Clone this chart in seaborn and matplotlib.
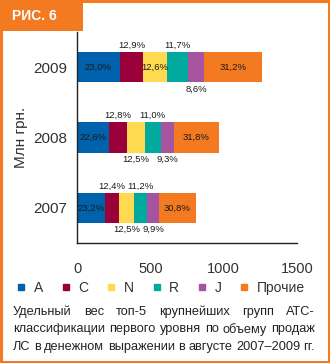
import matplotlib
matplotlib.use("Agg")
import matplotlib.pyplot as plt
from matplotlib.patches import Rectangle
from matplotlib.lines import Line2D
import seaborn as sns
import numpy as np
import pandas as pd

# ---- data ----
years = ["2009", "2008", "2007"]
totals = [1262, 968, 810]          # млн грн.
groups = ["A", "C", "N", "R", "J", "Прочие"]
share_2009 = [23.0, 12.9, 12.6, 11.7, 8.6, 31.2]
share_2008 = [22.6, 12.8, 12.5, 11.0, 9.3, 31.8]
share_2007 = [23.2, 12.4, 12.5, 11.2, 9.9, 30.8]
# label placement per segment: 'in', 'up', 'down'
place_2009 = ["in", "up", "in", "up", "down", "in"]
place_2008 = ["in", "up", "down", "up", "down", "in"]
place_2007 = ["in", "up", "down", "up", "down", "in"]
colors = ["#0061AC", "#9A0039", "#FFD94F", "#00A99D", "#A754A0", "#F47A21"]
xticks = [0, 500, 1000, 1500]
caption = ["Удельный вес топ-5 крупнейших групп АТС-",
           "классификации первого уровня по объему продаж",
           "ЛС в денежном выражении в августе 2007–2009 гг."]

shares = [share_2009, share_2008, share_2007]
places = [place_2009, place_2008, place_2007]

sns.set_theme(style="white")
plt.rcParams["font.family"] = ["Liberation Sans", "DejaVu Sans"]

W, H = 330, 363
fig = plt.figure(figsize=(W / 100, H / 100), dpi=100)
fig.patch.set_facecolor("white")
ax = fig.add_axes([77 / W, 1 - 243 / H, 220 / W, 211 / H])

# build long table of segment values
rows = []
for y, tot, sh in zip(years, totals, shares):
    vals = np.array(sh) * tot / 100.0
    cum = np.cumsum(vals)
    for g, v, c, s in zip(groups, vals, cum, sh):
        rows.append(dict(year=y, group=g, value=v, cum=c, share=s))
df = pd.DataFrame(rows)

# stacked horizontal bars via cumulative overlap (draw longest first)
for g, col in reversed(list(zip(groups, colors))):
    sub = df[df.group == g]
    sns.barplot(data=sub, x="cum", y="year", order=years, orient="h",
                color=col, saturation=1, width=0.43, ax=ax, errorbar=None,
                edgecolor="none", linewidth=0)

# labels
half = 0.43 / 2
for i, (y, tot, sh, pl) in enumerate(zip(years, totals, shares, places)):
    vals = np.array(sh) * tot / 100.0
    left = np.concatenate([[0], np.cumsum(vals)[:-1]])
    for v, l, s, p in zip(vals, left, sh, pl):
        xc = l + v / 2
        txt = f"{s:.1f}%".replace(".", ",")
        if p == "in":
            ax.text(xc, i, txt, ha="center", va="center", fontsize=6.8, color="#1a1a1a")
        elif p == "up":
            ax.annotate(txt, (xc, i - half), xytext=(0, 1.5), textcoords="offset points",
                        ha="center", va="bottom", fontsize=6.8, color="#1a1a1a")
        else:
            ax.annotate(txt, (xc, i + half), xytext=(0, -1.5), textcoords="offset points",
                        ha="center", va="top", fontsize=6.8, color="#1a1a1a")

ax.set_xlim(0, 1500)
ax.set_ylim(2.5, -0.5)
ax.set_xticks(xticks)
ax.set_xticklabels([str(t) for t in xticks], fontsize=10.5, color="#333333")
ax.set_yticks(range(len(years)))
ax.set_yticklabels(years, fontsize=11, color="#333333")
ax.set_yticks([-0.5, 0.5, 1.5, 2.5], minor=True)
ax.tick_params(axis="y", which="major", length=0, pad=7)
ax.tick_params(axis="y", which="minor", length=5, width=1, color="#222222", direction="out")
ax.tick_params(axis="x", which="major", length=4, width=1, color="#222222", direction="out", pad=10)
ax.set_xlabel("")
ax.set_ylabel("Млн грн.", fontsize=11, color="#333333")
ax.yaxis.set_label_coords(-(77 - 28) / 220, 0.5)
for s in ["top", "right"]:
    ax.spines[s].set_visible(False)
for s in ["left", "bottom"]:
    ax.spines[s].set_color("#222222")
    ax.spines[s].set_linewidth(1)

# legend
handles = [Line2D([], [], marker="s", linestyle="none", markersize=4.5,
                  markerfacecolor=c, markeredgecolor=c) for c in colors]
fig.legend(handles, groups, loc="center left", bbox_to_anchor=(17 / W, 1 - 288 / H), ncol=6,
           frameon=False, fontsize=10, handlelength=0.6, handletextpad=0.6,
           columnspacing=1.35, labelcolor="#333333", borderpad=0, borderaxespad=0)

# frame & header
fig.patches.append(Rectangle((0.0045, 0.004), 1 - 0.009, 1 - 0.008, transform=fig.transFigure,
                             fill=False, edgecolor="#F47A21", linewidth=2.2, zorder=0))
fig.patches.append(Rectangle((0, 1 - 31 / H), 83 / W, 31 / H, transform=fig.transFigure,
                             facecolor="#F47A21", edgecolor="none", zorder=1))
fig.text(12 / W, 1 - 15.5 / H, "РИС. 6", color="white", fontsize=10, fontweight="bold",
         ha="left", va="center")

# justified caption (font size chosen so every line fits with normal word spacing)
fig.canvas.draw()
r = fig.canvas.get_renderer()
x0, x1 = 13, 315
fs = 10.2
while True:
    ok = True
    for line in caption:
        words = line.split(" ")
        t = fig.text(0, 0, line.replace(" ", ""), fontsize=fs)
        w = t.get_window_extent(r).width
        t.remove()
        gap = (x1 - x0 - w) / (len(words) - 1)
        if gap < 0.26 * fs * 100 / 72:
            ok = False
    if ok or fs < 7:
        break
    fs -= 0.1

for k, line in enumerate(caption):
    yc = 1 - (312 + 17.3 * k) / H
    words = line.split(" ")
    ts = [fig.text(0, yc, w, fontsize=fs, color="#222222", va="center", ha="left") for w in words]
    ws = [t.get_window_extent(r).width for t in ts]
    gap = (x1 - x0 - sum(ws)) / (len(words) - 1)
    x = x0
    for t, w in zip(ts, ws):
        t.set_x(x / W)
        x += w + gap

fig.savefig("out.png", dpi=100)
